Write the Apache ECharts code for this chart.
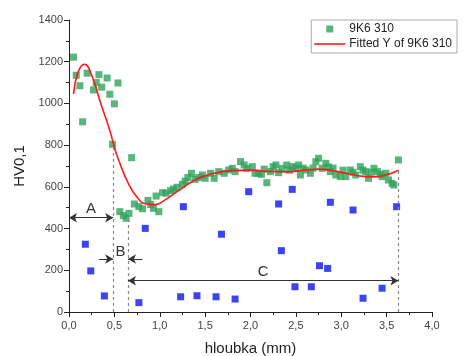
<!DOCTYPE html>
<html>
<head>
<meta charset="utf-8">
<script src="https://cdn.jsdelivr.net/npm/echarts@6/dist/echarts.min.js"></script>
<style>
html,body{margin:0;padding:0;background:#fff;}
#chart{width:471px;height:356px;}
</style>
</head>
<body>
<div id="chart"></div>
<script>
// Measured series (9K6 310)
const greenX = [0.05,0.08,0.12,0.15,0.20,0.27,0.30,0.33,0.36,0.42,0.45,0.48,0.50,0.54,0.56,0.60,0.63,0.66,0.69,0.72,0.77,0.81,0.87,0.90,0.93,0.96,0.99,1.03,1.07,1.12,1.15,1.19,1.25,1.28,1.31,1.35,1.39,1.43,1.47,1.50,1.56,1.60,1.65,1.71,1.76,1.80,1.83,1.89,1.93,1.96,2.02,2.05,2.09,2.12,2.15,2.18,2.22,2.25,2.28,2.31,2.35,2.40,2.43,2.46,2.50,2.53,2.55,2.58,2.61,2.66,2.69,2.72,2.75,2.79,2.83,2.86,2.88,2.91,2.94,2.99,3.02,3.05,3.10,3.13,3.16,3.21,3.24,3.27,3.30,3.33,3.36,3.40,3.43,3.45,3.49,3.52,3.56,3.58,3.63];
const greenY = [1222,1135,1085,912,1145,1065,1100,1138,1078,1122,1044,804,998,1098,481,462,449,473,740,518,505,495,535,515,497,556,481,572,570,582,590,598,612,628,645,665,636,645,657,641,665,641,673,665,681,689,673,721,705,689,697,665,665,660,685,620,673,697,705,668,689,705,680,697,690,705,657,690,681,665,690,721,737,689,713,695,673,690,657,649,680,649,681,670,657,697,680,673,641,670,689,673,660,649,665,633,617,609,729];
// Second (blue) point set
const blueX = [0.18,0.24,0.39,0.77,0.84,1.23,1.26,1.41,1.62,1.68,1.83,1.98,2.31,2.34,2.46,2.49,2.67,2.76,2.85,2.88,3.13,3.24,3.45,3.61];
const blueY = [325,197,77,45,401,73,505,78,73,373,62,577,518,294,588,121,121,222,209,526,489,66,114,505];
// Fitted curve
const fitX = [0.05,0.10,0.17,0.25,0.35,0.45,0.50,0.55,0.65,0.75,0.85,0.95,1.05,1.20,1.40,1.60,1.80,2.00,2.20,2.40,2.60,2.75,2.90,3.05,3.20,3.35,3.50,3.63];
const fitY = [1045,1150,1188,1135,1000,870,790,725,620,550,518,515,535,580,635,665,678,680,674,672,680,685,678,665,652,648,658,680];
// Axis ticks
const xTicks = [0,0.5,1,1.5,2,2.5,3,3.5,4];
const yTicks = [0,200,400,600,800,1000,1200,1400];
// Annotation geometry (data coordinates)
const dashX = [0.487, 0.65, 3.63];
const dashTop = [790, 445, 680];
const arrowAY = 452, arrowBY = 254, arrowCY = 150;
const regionLabels = ['A','B','C'];

const chart = echarts.init(document.getElementById('chart'), null, {renderer:'canvas'});
const fmt = v => v.toFixed(1).replace('.', ',');
const font = 'Liberation Sans, Arial, sans-serif';
const arrowStyle = {color:'#333', width:1, type:'solid'};
const lblStyle = {show:true, position:'middle', color:'#333', fontSize:15, fontFamily:font, distance:1};

const markData = [];
dashX.forEach((x,i)=>{
  markData.push([{coord:[x,0], symbol:'none', lineStyle:{color:'#888', width:1.2, type:[3,3]}, label:{show:false}},
                 {coord:[x,dashTop[i]], symbol:'none'}]);
});
markData.push([{coord:[0,arrowAY], symbol:'arrow', lineStyle:arrowStyle, label:Object.assign({}, lblStyle, {formatter:regionLabels[0]})},
               {coord:[dashX[0],arrowAY], symbol:'arrow'}]);
markData.push([{coord:[0.33,arrowBY], symbol:'none', lineStyle:arrowStyle, label:{show:false}},
               {coord:[dashX[0],arrowBY], symbol:'arrow'}]);
markData.push([{coord:[0.81,arrowBY], symbol:'none', lineStyle:arrowStyle, label:{show:false}},
               {coord:[dashX[1],arrowBY], symbol:'arrow'}]);
markData.push([{coord:[dashX[0],arrowBY], symbol:'none', lineStyle:{color:'rgba(0,0,0,0)', width:1}, label:Object.assign({}, lblStyle, {formatter:regionLabels[1], distance:0})},
               {coord:[dashX[1],arrowBY], symbol:'none'}]);
markData.push([{coord:[dashX[1],arrowCY], symbol:'arrow', lineStyle:arrowStyle, label:Object.assign({}, lblStyle, {formatter:regionLabels[2], distance:1})},
               {coord:[dashX[2],arrowCY], symbol:'arrow'}]);

chart.setOption({
  animation:false,
  backgroundColor:'#fff',
  grid:{left:69, right:39, top:20, bottom:44, outerBoundsMode:'none', containLabel:false},
  legend:{
    data:[
      {name:'9K6 310', icon:'path://M0,0M31,7M12,0h7v7h-7z'},
      {name:'Fitted Y of 9K6 310', icon:'path://M0,0M31,7M0,2.7h31v1.6h-31z'}
    ],
    orient:'vertical', right:14, top:20,
    itemWidth:31, itemHeight:7, itemGap:3,
    borderColor:'#aaa', borderWidth:1, padding:[3,5,3,3],
    textStyle:{fontSize:12, color:'#222', fontFamily:font, padding:[0,0,0,-1]}
  },
  xAxis:{
    type:'value', min:0, max:4, interval:0.5,
    name:'hloubka (mm)', nameLocation:'middle', nameGap:29,
    nameTextStyle:{fontSize:15, color:'#222', fontFamily:font},
    axisLine:{lineStyle:{color:'#222', width:1}},
    axisTick:{length:5, lineStyle:{color:'#222'}},
    minorTick:{show:true, splitNumber:2, length:3, lineStyle:{color:'#222'}},
    splitLine:{show:false},
    axisLabel:{fontSize:11, color:'#444', fontFamily:font, margin:8, formatter:v=>fmt(v)}
  },
  yAxis:{
    type:'value', min:0, max:1400, interval:200,
    name:'HV0,1', nameLocation:'middle', nameGap:41,
    nameTextStyle:{fontSize:15, color:'#222', fontFamily:font},
    axisLine:{show:true, lineStyle:{color:'#222', width:1}},
    axisTick:{show:true, length:5, lineStyle:{color:'#222'}},
    minorTick:{show:true, splitNumber:2, length:3, lineStyle:{color:'#222'}},
    splitLine:{show:false},
    axisLabel:{fontSize:11, color:'#444', fontFamily:font, margin:6, formatter:v=>String(v)}
  },
  series:[
    {name:'9K6 310', type:'scatter', symbol:'rect', symbolSize:7, symbolKeepAspect:true,
     itemStyle:{color:'#2ea35a'},
     data:greenX.map((x,i)=>[x,greenY[i]]), z:3},
    {name:'blue', type:'scatter', symbol:'rect', symbolSize:7,
     itemStyle:{color:'#0a14f0'},
     data:blueX.map((x,i)=>[x,blueY[i]]), z:3},
    {name:'Fitted Y of 9K6 310', type:'line', smooth:true, symbol:'none', showSymbol:false,
     lineStyle:{color:'#ff1a1a', width:1.6}, itemStyle:{color:'#ff1a1a'},
     data:fitX.map((x,i)=>[x,fitY[i]]), z:4},
    {name:'annot', type:'line', data:[], silent:true,
     markLine:{silent:true, animation:false, symbolSize:[7,8], precision:3, data:markData}}
  ]
});
</script>
</body>
</html>
